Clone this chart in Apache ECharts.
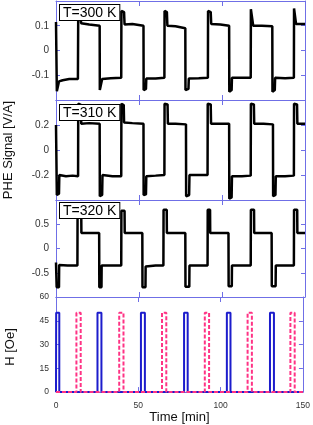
<!DOCTYPE html>
<html>
<head>
<meta charset="utf-8">
<script src="https://cdn.jsdelivr.net/npm/echarts@6/dist/echarts.min.js"></script>
<style>
html,body{margin:0;padding:0;background:#fff;}
#c{width:313px;height:425px;}
</style>
</head>
<body>
<div id="c"></div>
<script>
// ---- data ----
const panelLabels = ['T=300 K', 'T=310 K', 'T=320 K'];
const xTicks = [0, 50, 100, 150];
const yRanges = [[-0.2, 0.2, 0.1], [-0.4, 0.4, 0.2], [-1, 1, 0.5], [0, 60, 15]];

const sig300 = [
  [0,0.115],[0.4,0.11],[0.5,-0.165],[1.6,-0.16],[1.8,-0.125],[4,-0.12],[8,-0.115],[13.2,-0.115],
  [13.4,0.16],[14.8,0.155],[15.1,0.11],[20,0.105],[26.3,0.1],
  [26.4,-0.16],[27.6,-0.16],[27.8,-0.115],[33,-0.112],[39.3,-0.11],
  [39.4,0.16],[41.0,0.155],[41.3,0.105],[46,0.107],[52.7,0.1],
  [52.8,-0.16],[54.2,-0.155],[54.4,-0.113],[60,-0.113],[65.3,-0.11],
  [65.4,0.16],[66.8,0.155],[67.1,0.1],[72,0.098],[77.9,0.09],
  [78.0,-0.16],[79.8,-0.155],[80.0,-0.113],[86,-0.112],[91.5,-0.11],
  [91.6,0.16],[93.2,0.155],[93.5,0.107],[99,0.105],[104.3,0.1],
  [104.4,-0.167],[105.8,-0.16],[106.0,-0.11],[112,-0.11],[117.3,-0.11],
  [117.4,0.167],[118.6,0.16],[118.8,0.1],[124,0.1],[130.3,0.098],
  [130.4,-0.167],[131.8,-0.16],[132.0,-0.11],[138,-0.112],[143.3,-0.11],
  [143.4,0.17],[144.4,0.165],[144.6,0.107],[150,0.107]
];
const sig310 = [
  [0,0.2],[0.4,0.2],[0.5,-0.36],[1.8,-0.35],[2.0,-0.2],[6,-0.21],[10,-0.205],[13.3,-0.21],
  [13.4,0.37],[15,0.36],[15.2,0.21],[20,0.215],[26.3,0.21],
  [26.4,-0.37],[27.8,-0.36],[28.0,-0.2],[34,-0.21],[39.3,-0.21],
  [39.4,0.37],[40.8,0.36],[41.0,0.22],[46,0.215],[52.7,0.21],
  [52.8,-0.36],[54.2,-0.355],[54.4,-0.21],[60,-0.205],[65.3,-0.2],
  [65.4,0.37],[67.2,0.365],[67.4,0.21],[72,0.21],[78.3,0.205],
  [78.4,-0.37],[80.2,-0.36],[80.4,-0.2],[86,-0.2],[91.3,-0.2],
  [91.4,0.37],[93.2,0.365],[93.4,0.21],[99,0.21],[104.3,0.21],
  [104.4,-0.39],[105.8,-0.38],[106.0,-0.21],[112,-0.21],[117.3,-0.205],
  [117.4,0.37],[119.2,0.365],[119.4,0.21],[125,0.21],[130.7,0.205],
  [130.8,-0.37],[132.2,-0.36],[132.4,-0.21],[138,-0.21],[143.3,-0.205],
  [143.4,0.37],[145.2,0.365],[145.4,0.21],[150,0.21]
];
const sig320 = [
  [0,-0.29],[0.3,-0.3],[0.4,-0.8],[1.8,-0.8],[1.9,-0.34],[7,-0.35],[12.9,-0.35],
  [13.0,0.8],[15.2,0.79],[15.3,0.32],[20,0.32],[26.0,0.32],
  [26.1,-0.8],[27.4,-0.8],[27.5,-0.35],[33,-0.35],[39.3,-0.35],
  [39.4,0.78],[41.3,0.78],[41.4,0.32],[46,0.32],[52.0,0.32],
  [52.1,-0.8],[53.9,-0.8],[54.0,-0.37],[60,-0.35],[64.7,-0.35],
  [64.8,0.8],[66.7,0.8],[66.8,0.32],[72,0.32],[77.9,0.32],
  [78.0,-0.79],[80.3,-0.79],[80.4,-0.35],[86,-0.35],[91.3,-0.35],
  [91.4,0.8],[92.8,0.8],[92.9,0.32],[99,0.32],[103.9,0.32],
  [104.0,-0.78],[105.9,-0.78],[106.0,-0.35],[112,-0.35],[117.3,-0.35],
  [117.4,0.8],[119.3,0.8],[119.4,0.32],[125,0.32],[129.9,0.32],
  [130.0,-0.78],[132.3,-0.78],[132.4,-0.35],[138,-0.35],[143.3,-0.35],
  [143.4,0.8],[145.3,0.8],[145.4,0.32],[150,0.32]
];
// field pulses: [on, off] in minutes, amplitude in Oe
const fieldAmp = 50;
const bluePulses = [[0.1,2.0],[25.2,27.6],[51.6,54.0],[77.8,80.0],[103.8,106.0],[130.0,132.4]];
const redPulses  = [[12.4,15.0],[38.4,41.0],[64.4,67.0],[90.4,93.0],[116.4,119.0],[142.4,145.0]];

function pulseLine(pulses){
  const pts = [[0,0]];
  pulses.forEach(p => { pts.push([p[0],0],[p[0],fieldAmp],[p[1],fieldAmp],[p[1],0]); });
  pts.push([150,0]);
  return pts;
}

// ---- chart ----
const axisCol = '#6f6fe6';
const grids = [
  {left:56, width:249, top:1, height:99},
  {left:56, width:249, top:100, height:100},
  {left:56, width:249, top:200, height:97},
  {left:56, width:249, top:297, height:100}
];
const xAxes = [], yAxes = [];
grids.forEach((g,i) => {
  const last = i === 3;
  xAxes.push({
    type:'value', gridIndex:i, min:xTicks[0], max:xTicks[xTicks.length-1], interval:50, position:'bottom',
    axisLine:{show:true, onZero:false, lineStyle:{color:axisCol, width:1}},
    axisTick:{show:true, inside:true, length:5, lineStyle:{color:axisCol}},
    splitLine:{show:false},
    axisLabel:{show:last, color:'#333', fontSize:8.5, fontFamily:'Liberation Sans, Arial, sans-serif', margin:9},
    name: last ? 'Time [min]' : '', nameLocation:'middle', nameGap:13,
    nameTextStyle:{color:'#111', fontSize:13, fontFamily:'Liberation Sans, Arial, sans-serif'}
  });
  xAxes.push({
    type:'value', gridIndex:i, min:0, max:150, interval:50, position:'top',
    axisLine:{show:true, onZero:false, lineStyle:{color:axisCol, width:1}},
    axisTick:{show:true, inside:true, length:5, lineStyle:{color:axisCol}},
    splitLine:{show:false}, axisLabel:{show:false}
  });
  const r = yRanges[i];
  yAxes.push({
    type:'value', gridIndex:i, min:r[0], max:r[1], interval:r[2], position:'left',
    axisLine:{show:true, onZero:false, lineStyle:{color:axisCol, width:1}},
    axisTick:{show:true, inside:true, length:4, lineStyle:{color:axisCol}},
    splitLine:{show:false},
    axisLabel:{show:true, showMinLabel: last, showMaxLabel: last, color:'#333',
      fontSize: last ? 8.5 : 10, fontFamily:'Liberation Sans, Arial, sans-serif', margin:7}
  });
  yAxes.push({
    type:'value', gridIndex:i, min:r[0], max:r[1], interval:r[2], position:'right',
    axisLine:{show:true, onZero:false, lineStyle:{color:axisCol, width:1}},
    axisTick:{show:true, inside:true, length:4, lineStyle:{color:axisCol}},
    splitLine:{show:false}, axisLabel:{show:false}
  });
});

const sigs = [sig300, sig310, sig320];
const series = sigs.map((d,i) => ({
  type:'line', xAxisIndex:i*2, yAxisIndex:i*2, data:d, showSymbol:false, symbol:'none',
  lineStyle:{color:'#000', width:2.5}, z:2, animation:false
}));
series.push({
  type:'line', xAxisIndex:6, yAxisIndex:6, data:pulseLine(bluePulses), showSymbol:false, symbol:'none',
  lineStyle:{color:'#1c1ccc', width:2}, z:2, animation:false
});
series.push({
  type:'line', xAxisIndex:6, yAxisIndex:6, data:pulseLine(redPulses), showSymbol:false, symbol:'none',
  lineStyle:{color:'#ff3385', width:2, type:[4,2]}, z:3, animation:false
});

const labelTops = [4, 104, 202];
const graphic = panelLabels.map((t,i) => ({
  type:'text', left:59, top:labelTops[i], z:100,
  style:{text:t, font:'14px "Liberation Sans", Arial, sans-serif', fill:'#000',
    backgroundColor:'#fff', borderColor:'#000', borderWidth:1, padding:[1,3,0,3]}
}));
graphic.push({
  type:'text', x:8, y:150, rotation:Math.PI/2, z:100,
  style:{text:'PHE Signal [V/A]', font:'13px "Liberation Sans", Arial, sans-serif', fill:'#111',
    textAlign:'center', textVerticalAlign:'middle'}
});
graphic.push({
  type:'text', x:10, y:347, rotation:Math.PI/2, z:100,
  style:{text:'H [Oe]', font:'13px "Liberation Sans", Arial, sans-serif', fill:'#111',
    textAlign:'center', textVerticalAlign:'middle'}
});

const chart = echarts.init(document.getElementById('c'), null, {renderer:'canvas'});
chart.setOption({
  animation:false,
  backgroundColor:'#fff',
  grid:grids, xAxis:xAxes, yAxis:yAxes, series:series, graphic:graphic
});
</script>
</body>
</html>
